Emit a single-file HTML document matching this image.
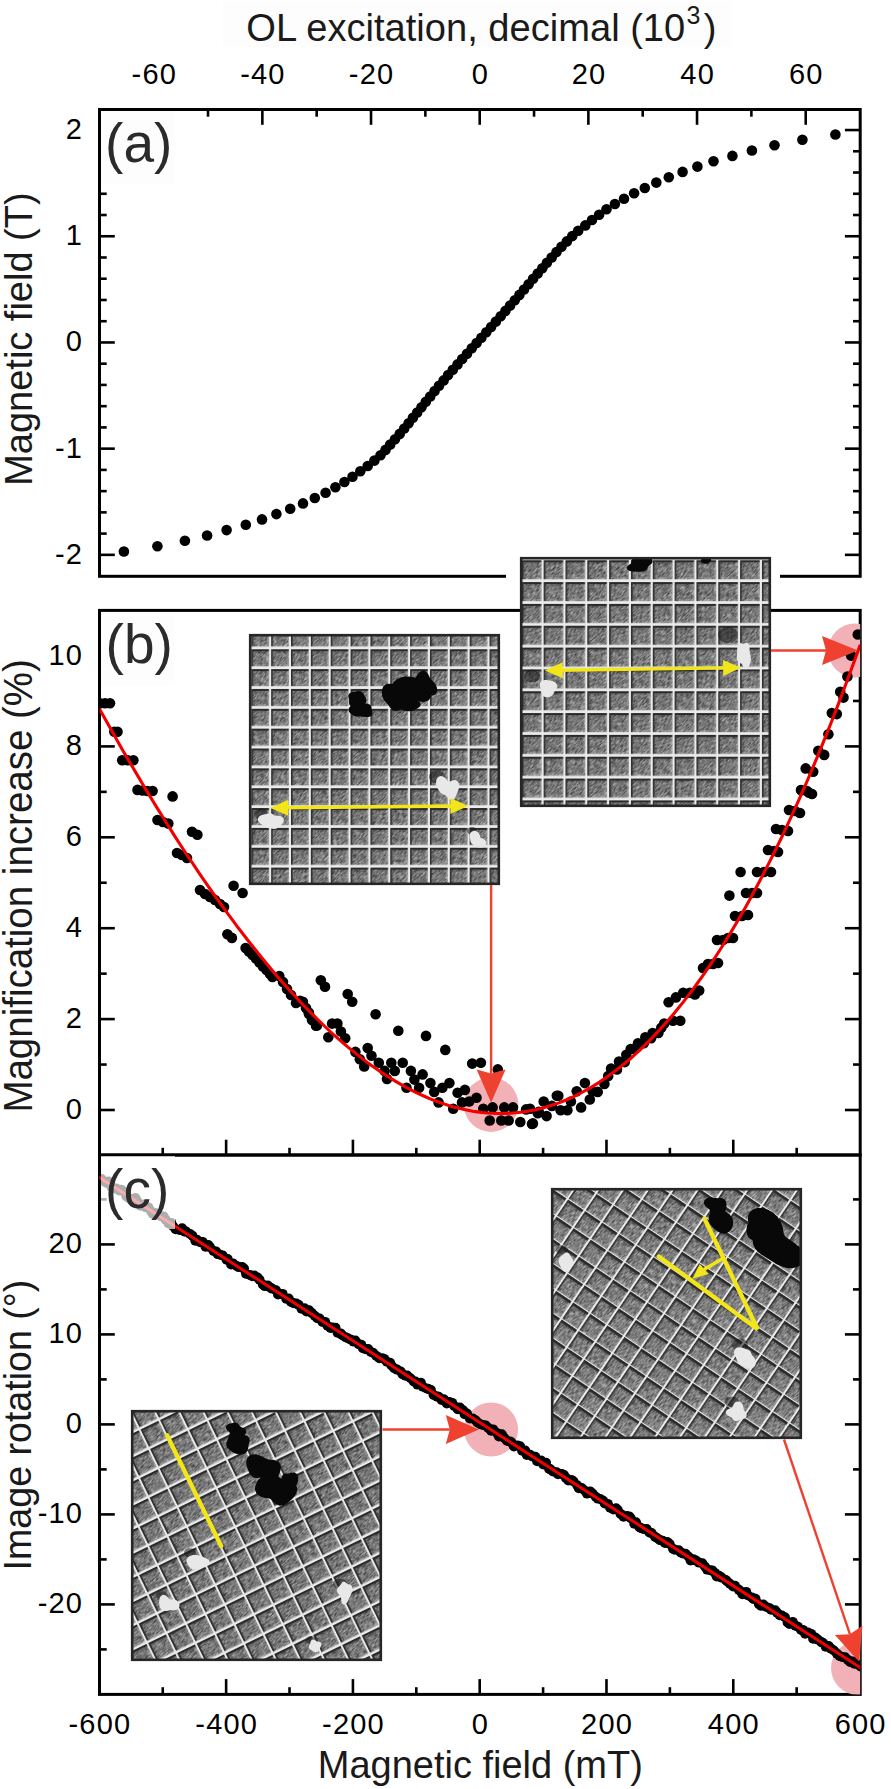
<!DOCTYPE html>
<html><head><meta charset="utf-8"><style>
html,body{margin:0;padding:0;background:#fff;}
body{width:891px;height:1789px;overflow:hidden;}
svg{display:block;}
text{font-family:"Liberation Sans",sans-serif;}
</style></head><body>
<svg width="891" height="1789" viewBox="0 0 891 1789" font-family="Liberation Sans, sans-serif">
<rect width="891" height="1789" fill="#fff"/>
<defs>
<clipPath id="clipA"><rect x="99.5" y="109.5" width="760.7" height="466.8"/></clipPath>
<clipPath id="clipB"><rect x="99.5" y="610.4" width="760.7" height="544.6"/></clipPath>
<clipPath id="clipC"><rect x="99.5" y="1155.0" width="760.7" height="539.4"/></clipPath>
<filter id="grain" x="0" y="0" width="100%" height="100%"><feTurbulence type="fractalNoise" baseFrequency="0.22 0.9" numOctaves="2" seed="3" result="n"/><feColorMatrix type="matrix" values="0 0 0 0 0  0 0 0 0 0  0 0 0 0 0  1.6 0 0 0 -0.62" /></filter>
<filter id="grainw" x="0" y="0" width="100%" height="100%"><feTurbulence type="fractalNoise" baseFrequency="0.22 0.9" numOctaves="2" seed="9"/><feColorMatrix type="matrix" values="0 0 0 0 1  0 0 0 0 1  0 0 0 0 1  1.6 0 0 0 -0.62" /></filter>
</defs>
<rect x="223" y="1" width="509" height="46" fill="#fdfdfd"/>
<rect x="99.5" y="109.5" width="760.7" height="466.79999999999995" fill="none" stroke="#000" stroke-width="3"/>
<rect x="99.5" y="610.4" width="760.7" height="544.6" fill="none" stroke="#000" stroke-width="3"/>
<rect x="99.5" y="1155.0" width="760.7" height="539.4000000000001" fill="none" stroke="#000" stroke-width="3"/>
<line x1="153.69" y1="109.50" x2="153.69" y2="124.80" stroke="#000" stroke-width="2.6"/>
<line x1="208.02" y1="109.50" x2="208.02" y2="116.70" stroke="#000" stroke-width="2.6"/>
<line x1="262.36" y1="109.50" x2="262.36" y2="124.80" stroke="#000" stroke-width="2.6"/>
<line x1="316.69" y1="109.50" x2="316.69" y2="116.70" stroke="#000" stroke-width="2.6"/>
<line x1="371.03" y1="109.50" x2="371.03" y2="124.80" stroke="#000" stroke-width="2.6"/>
<line x1="425.36" y1="109.50" x2="425.36" y2="116.70" stroke="#000" stroke-width="2.6"/>
<line x1="479.70" y1="109.50" x2="479.70" y2="124.80" stroke="#000" stroke-width="2.6"/>
<line x1="534.04" y1="109.50" x2="534.04" y2="116.70" stroke="#000" stroke-width="2.6"/>
<line x1="588.37" y1="109.50" x2="588.37" y2="124.80" stroke="#000" stroke-width="2.6"/>
<line x1="642.71" y1="109.50" x2="642.71" y2="116.70" stroke="#000" stroke-width="2.6"/>
<line x1="697.04" y1="109.50" x2="697.04" y2="124.80" stroke="#000" stroke-width="2.6"/>
<line x1="751.38" y1="109.50" x2="751.38" y2="116.70" stroke="#000" stroke-width="2.6"/>
<line x1="805.71" y1="109.50" x2="805.71" y2="124.80" stroke="#000" stroke-width="2.6"/>
<line x1="99.50" y1="554.85" x2="114.80" y2="554.85" stroke="#000" stroke-width="2.6"/>
<line x1="860.20" y1="554.85" x2="844.90" y2="554.85" stroke="#000" stroke-width="2.6"/>
<line x1="99.50" y1="533.61" x2="106.70" y2="533.61" stroke="#000" stroke-width="2.6"/>
<line x1="860.20" y1="533.61" x2="853.00" y2="533.61" stroke="#000" stroke-width="2.6"/>
<line x1="99.50" y1="512.37" x2="106.70" y2="512.37" stroke="#000" stroke-width="2.6"/>
<line x1="860.20" y1="512.37" x2="853.00" y2="512.37" stroke="#000" stroke-width="2.6"/>
<line x1="99.50" y1="491.13" x2="106.70" y2="491.13" stroke="#000" stroke-width="2.6"/>
<line x1="860.20" y1="491.13" x2="853.00" y2="491.13" stroke="#000" stroke-width="2.6"/>
<line x1="99.50" y1="469.89" x2="106.70" y2="469.89" stroke="#000" stroke-width="2.6"/>
<line x1="860.20" y1="469.89" x2="853.00" y2="469.89" stroke="#000" stroke-width="2.6"/>
<line x1="99.50" y1="448.65" x2="114.80" y2="448.65" stroke="#000" stroke-width="2.6"/>
<line x1="860.20" y1="448.65" x2="844.90" y2="448.65" stroke="#000" stroke-width="2.6"/>
<line x1="99.50" y1="427.41" x2="106.70" y2="427.41" stroke="#000" stroke-width="2.6"/>
<line x1="860.20" y1="427.41" x2="853.00" y2="427.41" stroke="#000" stroke-width="2.6"/>
<line x1="99.50" y1="406.17" x2="106.70" y2="406.17" stroke="#000" stroke-width="2.6"/>
<line x1="860.20" y1="406.17" x2="853.00" y2="406.17" stroke="#000" stroke-width="2.6"/>
<line x1="99.50" y1="384.93" x2="106.70" y2="384.93" stroke="#000" stroke-width="2.6"/>
<line x1="860.20" y1="384.93" x2="853.00" y2="384.93" stroke="#000" stroke-width="2.6"/>
<line x1="99.50" y1="363.69" x2="106.70" y2="363.69" stroke="#000" stroke-width="2.6"/>
<line x1="860.20" y1="363.69" x2="853.00" y2="363.69" stroke="#000" stroke-width="2.6"/>
<line x1="99.50" y1="342.45" x2="114.80" y2="342.45" stroke="#000" stroke-width="2.6"/>
<line x1="860.20" y1="342.45" x2="844.90" y2="342.45" stroke="#000" stroke-width="2.6"/>
<line x1="99.50" y1="321.21" x2="106.70" y2="321.21" stroke="#000" stroke-width="2.6"/>
<line x1="860.20" y1="321.21" x2="853.00" y2="321.21" stroke="#000" stroke-width="2.6"/>
<line x1="99.50" y1="299.97" x2="106.70" y2="299.97" stroke="#000" stroke-width="2.6"/>
<line x1="860.20" y1="299.97" x2="853.00" y2="299.97" stroke="#000" stroke-width="2.6"/>
<line x1="99.50" y1="278.73" x2="106.70" y2="278.73" stroke="#000" stroke-width="2.6"/>
<line x1="860.20" y1="278.73" x2="853.00" y2="278.73" stroke="#000" stroke-width="2.6"/>
<line x1="99.50" y1="257.49" x2="106.70" y2="257.49" stroke="#000" stroke-width="2.6"/>
<line x1="860.20" y1="257.49" x2="853.00" y2="257.49" stroke="#000" stroke-width="2.6"/>
<line x1="99.50" y1="236.25" x2="114.80" y2="236.25" stroke="#000" stroke-width="2.6"/>
<line x1="860.20" y1="236.25" x2="844.90" y2="236.25" stroke="#000" stroke-width="2.6"/>
<line x1="99.50" y1="215.01" x2="106.70" y2="215.01" stroke="#000" stroke-width="2.6"/>
<line x1="860.20" y1="215.01" x2="853.00" y2="215.01" stroke="#000" stroke-width="2.6"/>
<line x1="99.50" y1="193.77" x2="106.70" y2="193.77" stroke="#000" stroke-width="2.6"/>
<line x1="860.20" y1="193.77" x2="853.00" y2="193.77" stroke="#000" stroke-width="2.6"/>
<line x1="99.50" y1="172.53" x2="106.70" y2="172.53" stroke="#000" stroke-width="2.6"/>
<line x1="860.20" y1="172.53" x2="853.00" y2="172.53" stroke="#000" stroke-width="2.6"/>
<line x1="99.50" y1="151.29" x2="106.70" y2="151.29" stroke="#000" stroke-width="2.6"/>
<line x1="860.20" y1="151.29" x2="853.00" y2="151.29" stroke="#000" stroke-width="2.6"/>
<line x1="99.50" y1="130.05" x2="114.80" y2="130.05" stroke="#000" stroke-width="2.6"/>
<line x1="860.20" y1="130.05" x2="844.90" y2="130.05" stroke="#000" stroke-width="2.6"/>
<line x1="99.50" y1="1110.00" x2="114.80" y2="1110.00" stroke="#000" stroke-width="2.6"/>
<line x1="860.20" y1="1110.00" x2="844.90" y2="1110.00" stroke="#000" stroke-width="2.6"/>
<line x1="99.50" y1="1064.55" x2="106.70" y2="1064.55" stroke="#000" stroke-width="2.6"/>
<line x1="860.20" y1="1064.55" x2="853.00" y2="1064.55" stroke="#000" stroke-width="2.6"/>
<line x1="99.50" y1="1019.10" x2="114.80" y2="1019.10" stroke="#000" stroke-width="2.6"/>
<line x1="860.20" y1="1019.10" x2="844.90" y2="1019.10" stroke="#000" stroke-width="2.6"/>
<line x1="99.50" y1="973.65" x2="106.70" y2="973.65" stroke="#000" stroke-width="2.6"/>
<line x1="860.20" y1="973.65" x2="853.00" y2="973.65" stroke="#000" stroke-width="2.6"/>
<line x1="99.50" y1="928.20" x2="114.80" y2="928.20" stroke="#000" stroke-width="2.6"/>
<line x1="860.20" y1="928.20" x2="844.90" y2="928.20" stroke="#000" stroke-width="2.6"/>
<line x1="99.50" y1="882.75" x2="106.70" y2="882.75" stroke="#000" stroke-width="2.6"/>
<line x1="860.20" y1="882.75" x2="853.00" y2="882.75" stroke="#000" stroke-width="2.6"/>
<line x1="99.50" y1="837.30" x2="114.80" y2="837.30" stroke="#000" stroke-width="2.6"/>
<line x1="860.20" y1="837.30" x2="844.90" y2="837.30" stroke="#000" stroke-width="2.6"/>
<line x1="99.50" y1="791.85" x2="106.70" y2="791.85" stroke="#000" stroke-width="2.6"/>
<line x1="860.20" y1="791.85" x2="853.00" y2="791.85" stroke="#000" stroke-width="2.6"/>
<line x1="99.50" y1="746.40" x2="114.80" y2="746.40" stroke="#000" stroke-width="2.6"/>
<line x1="860.20" y1="746.40" x2="844.90" y2="746.40" stroke="#000" stroke-width="2.6"/>
<line x1="99.50" y1="700.95" x2="106.70" y2="700.95" stroke="#000" stroke-width="2.6"/>
<line x1="860.20" y1="700.95" x2="853.00" y2="700.95" stroke="#000" stroke-width="2.6"/>
<line x1="99.50" y1="655.50" x2="114.80" y2="655.50" stroke="#000" stroke-width="2.6"/>
<line x1="860.20" y1="655.50" x2="844.90" y2="655.50" stroke="#000" stroke-width="2.6"/>
<line x1="162.74" y1="1155.00" x2="162.74" y2="1147.80" stroke="#000" stroke-width="2.6"/>
<line x1="162.74" y1="1694.40" x2="162.74" y2="1687.20" stroke="#000" stroke-width="2.6"/>
<line x1="226.13" y1="1155.00" x2="226.13" y2="1139.70" stroke="#000" stroke-width="2.6"/>
<line x1="226.13" y1="1694.40" x2="226.13" y2="1679.10" stroke="#000" stroke-width="2.6"/>
<line x1="289.52" y1="1155.00" x2="289.52" y2="1147.80" stroke="#000" stroke-width="2.6"/>
<line x1="289.52" y1="1694.40" x2="289.52" y2="1687.20" stroke="#000" stroke-width="2.6"/>
<line x1="352.92" y1="1155.00" x2="352.92" y2="1139.70" stroke="#000" stroke-width="2.6"/>
<line x1="352.92" y1="1694.40" x2="352.92" y2="1679.10" stroke="#000" stroke-width="2.6"/>
<line x1="416.31" y1="1155.00" x2="416.31" y2="1147.80" stroke="#000" stroke-width="2.6"/>
<line x1="416.31" y1="1694.40" x2="416.31" y2="1687.20" stroke="#000" stroke-width="2.6"/>
<line x1="479.70" y1="1155.00" x2="479.70" y2="1139.70" stroke="#000" stroke-width="2.6"/>
<line x1="479.70" y1="1694.40" x2="479.70" y2="1679.10" stroke="#000" stroke-width="2.6"/>
<line x1="543.09" y1="1155.00" x2="543.09" y2="1147.80" stroke="#000" stroke-width="2.6"/>
<line x1="543.09" y1="1694.40" x2="543.09" y2="1687.20" stroke="#000" stroke-width="2.6"/>
<line x1="606.48" y1="1155.00" x2="606.48" y2="1139.70" stroke="#000" stroke-width="2.6"/>
<line x1="606.48" y1="1694.40" x2="606.48" y2="1679.10" stroke="#000" stroke-width="2.6"/>
<line x1="669.88" y1="1155.00" x2="669.88" y2="1147.80" stroke="#000" stroke-width="2.6"/>
<line x1="669.88" y1="1694.40" x2="669.88" y2="1687.20" stroke="#000" stroke-width="2.6"/>
<line x1="733.27" y1="1155.00" x2="733.27" y2="1139.70" stroke="#000" stroke-width="2.6"/>
<line x1="733.27" y1="1694.40" x2="733.27" y2="1679.10" stroke="#000" stroke-width="2.6"/>
<line x1="796.66" y1="1155.00" x2="796.66" y2="1147.80" stroke="#000" stroke-width="2.6"/>
<line x1="796.66" y1="1694.40" x2="796.66" y2="1687.20" stroke="#000" stroke-width="2.6"/>
<line x1="99.50" y1="1649.40" x2="106.70" y2="1649.40" stroke="#000" stroke-width="2.6"/>
<line x1="860.20" y1="1649.40" x2="853.00" y2="1649.40" stroke="#000" stroke-width="2.6"/>
<line x1="99.50" y1="1604.40" x2="114.80" y2="1604.40" stroke="#000" stroke-width="2.6"/>
<line x1="860.20" y1="1604.40" x2="844.90" y2="1604.40" stroke="#000" stroke-width="2.6"/>
<line x1="99.50" y1="1559.40" x2="106.70" y2="1559.40" stroke="#000" stroke-width="2.6"/>
<line x1="860.20" y1="1559.40" x2="853.00" y2="1559.40" stroke="#000" stroke-width="2.6"/>
<line x1="99.50" y1="1514.40" x2="114.80" y2="1514.40" stroke="#000" stroke-width="2.6"/>
<line x1="860.20" y1="1514.40" x2="844.90" y2="1514.40" stroke="#000" stroke-width="2.6"/>
<line x1="99.50" y1="1469.40" x2="106.70" y2="1469.40" stroke="#000" stroke-width="2.6"/>
<line x1="860.20" y1="1469.40" x2="853.00" y2="1469.40" stroke="#000" stroke-width="2.6"/>
<line x1="99.50" y1="1424.40" x2="114.80" y2="1424.40" stroke="#000" stroke-width="2.6"/>
<line x1="860.20" y1="1424.40" x2="844.90" y2="1424.40" stroke="#000" stroke-width="2.6"/>
<line x1="99.50" y1="1379.40" x2="106.70" y2="1379.40" stroke="#000" stroke-width="2.6"/>
<line x1="860.20" y1="1379.40" x2="853.00" y2="1379.40" stroke="#000" stroke-width="2.6"/>
<line x1="99.50" y1="1334.40" x2="114.80" y2="1334.40" stroke="#000" stroke-width="2.6"/>
<line x1="860.20" y1="1334.40" x2="844.90" y2="1334.40" stroke="#000" stroke-width="2.6"/>
<line x1="99.50" y1="1289.40" x2="106.70" y2="1289.40" stroke="#000" stroke-width="2.6"/>
<line x1="860.20" y1="1289.40" x2="853.00" y2="1289.40" stroke="#000" stroke-width="2.6"/>
<line x1="99.50" y1="1244.40" x2="114.80" y2="1244.40" stroke="#000" stroke-width="2.6"/>
<line x1="860.20" y1="1244.40" x2="844.90" y2="1244.40" stroke="#000" stroke-width="2.6"/>
<line x1="99.50" y1="1199.40" x2="106.70" y2="1199.40" stroke="#000" stroke-width="2.6"/>
<line x1="860.20" y1="1199.40" x2="853.00" y2="1199.40" stroke="#000" stroke-width="2.6"/>
<g clip-path="url(#clipA)">
<circle cx="123.9" cy="551.5" r="5.3"/><circle cx="157.4" cy="546.2" r="5.3"/><circle cx="184.9" cy="540.8" r="5.3"/><circle cx="207.1" cy="535.5" r="5.3"/><circle cx="226.6" cy="530.1" r="5.3"/><circle cx="245.8" cy="524.8" r="5.3"/><circle cx="262.0" cy="519.4" r="5.3"/><circle cx="276.4" cy="514.1" r="5.3"/><circle cx="290.2" cy="508.7" r="5.3"/><circle cx="303.0" cy="503.4" r="5.3"/><circle cx="314.8" cy="498.0" r="5.3"/><circle cx="325.6" cy="492.7" r="5.3"/><circle cx="335.4" cy="487.3" r="5.3"/><circle cx="344.4" cy="482.0" r="5.3"/><circle cx="352.5" cy="476.7" r="5.3"/><circle cx="360.3" cy="471.3" r="5.3"/><circle cx="367.7" cy="466.0" r="5.3"/><circle cx="374.4" cy="460.6" r="5.3"/><circle cx="380.5" cy="455.3" r="5.3"/><circle cx="385.5" cy="449.9" r="5.3"/><circle cx="390.2" cy="444.6" r="5.3"/><circle cx="395.0" cy="439.2" r="5.3"/><circle cx="399.7" cy="433.9" r="5.3"/><circle cx="404.2" cy="428.5" r="5.3"/><circle cx="408.6" cy="423.2" r="5.3"/><circle cx="412.9" cy="417.8" r="5.3"/><circle cx="417.2" cy="412.5" r="5.3"/><circle cx="421.5" cy="407.2" r="5.3"/><circle cx="425.8" cy="401.8" r="5.3"/><circle cx="430.2" cy="396.5" r="5.3"/><circle cx="434.6" cy="391.1" r="5.3"/><circle cx="439.0" cy="385.8" r="5.3"/><circle cx="443.6" cy="380.4" r="5.3"/><circle cx="448.1" cy="375.1" r="5.3"/><circle cx="452.8" cy="369.7" r="5.3"/><circle cx="457.5" cy="364.4" r="5.3"/><circle cx="462.2" cy="359.0" r="5.3"/><circle cx="467.0" cy="353.7" r="5.3"/><circle cx="471.8" cy="348.3" r="5.3"/><circle cx="476.6" cy="343.0" r="5.3"/><circle cx="481.4" cy="337.7" r="5.3"/><circle cx="486.3" cy="332.3" r="5.3"/><circle cx="491.1" cy="327.0" r="5.3"/><circle cx="495.9" cy="321.6" r="5.3"/><circle cx="500.7" cy="316.3" r="5.3"/><circle cx="505.4" cy="310.9" r="5.3"/><circle cx="510.1" cy="305.6" r="5.3"/><circle cx="514.8" cy="300.2" r="5.3"/><circle cx="519.4" cy="294.9" r="5.3"/><circle cx="524.0" cy="289.5" r="5.3"/><circle cx="528.6" cy="284.2" r="5.3"/><circle cx="533.1" cy="278.8" r="5.3"/><circle cx="537.7" cy="273.5" r="5.3"/><circle cx="542.3" cy="268.2" r="5.3"/><circle cx="546.9" cy="262.8" r="5.3"/><circle cx="551.7" cy="257.5" r="5.3"/><circle cx="556.5" cy="252.1" r="5.3"/><circle cx="561.5" cy="246.8" r="5.3"/><circle cx="566.8" cy="241.4" r="5.3"/><circle cx="572.3" cy="236.1" r="5.3"/><circle cx="578.2" cy="230.7" r="5.3"/><circle cx="585.3" cy="225.4" r="5.3"/><circle cx="592.0" cy="220.0" r="5.3"/><circle cx="599.1" cy="214.7" r="5.3"/><circle cx="606.5" cy="209.3" r="5.3"/><circle cx="614.9" cy="204.0" r="5.3"/><circle cx="624.0" cy="198.7" r="5.3"/><circle cx="634.1" cy="193.3" r="5.3"/><circle cx="644.8" cy="188.0" r="5.3"/><circle cx="656.3" cy="182.6" r="5.3"/><circle cx="668.8" cy="177.3" r="5.3"/><circle cx="682.6" cy="171.9" r="5.3"/><circle cx="697.4" cy="166.6" r="5.3"/><circle cx="713.5" cy="161.2" r="5.3"/><circle cx="732.4" cy="155.9" r="5.3"/><circle cx="751.9" cy="150.5" r="5.3"/><circle cx="774.5" cy="145.2" r="5.3"/><circle cx="802.4" cy="139.8" r="5.3"/><circle cx="835.4" cy="134.5" r="5.3"/>
</g>
<g clip-path="url(#clipB)">
<circle cx="491.1" cy="1104.6" r="27.3" fill="#f1b1b6"/>
<circle cx="855" cy="650.5" r="27" fill="#f1b1b6"/>
<circle cx="100.0" cy="703.3" r="5.3"/><circle cx="105.0" cy="703.3" r="5.3"/><circle cx="110.0" cy="703.3" r="5.3"/><circle cx="114.3" cy="731.7" r="5.3"/><circle cx="117.5" cy="731.7" r="5.3"/><circle cx="122.2" cy="760.3" r="5.3"/><circle cx="127.8" cy="760.3" r="5.3"/><circle cx="133.4" cy="760.3" r="5.3"/><circle cx="137.5" cy="789.9" r="5.3"/><circle cx="142.5" cy="790.5" r="5.3"/><circle cx="147.5" cy="791.0" r="5.3"/><circle cx="152.6" cy="791.0" r="5.3"/><circle cx="172.6" cy="796.4" r="5.3"/><circle cx="157.5" cy="820.0" r="5.3"/><circle cx="163.0" cy="822.0" r="5.3"/><circle cx="168.3" cy="823.6" r="5.3"/><circle cx="192.0" cy="831.7" r="5.3"/><circle cx="197.4" cy="834.8" r="5.3"/><circle cx="177.0" cy="853.0" r="5.3"/><circle cx="182.0" cy="855.0" r="5.3"/><circle cx="187.0" cy="858.0" r="5.3"/><circle cx="200.0" cy="890.0" r="5.3"/><circle cx="205.0" cy="894.0" r="5.3"/><circle cx="210.0" cy="897.0" r="5.3"/><circle cx="215.0" cy="900.0" r="5.3"/><circle cx="220.0" cy="904.0" r="5.3"/><circle cx="224.0" cy="907.0" r="5.3"/><circle cx="233.6" cy="885.8" r="5.3"/><circle cx="242.6" cy="893.0" r="5.3"/><circle cx="227.4" cy="934.3" r="5.3"/><circle cx="231.9" cy="937.9" r="5.3"/><circle cx="245.6" cy="948.0" r="5.3"/><circle cx="249.0" cy="951.5" r="5.3"/><circle cx="252.5" cy="955.0" r="5.3"/><circle cx="256.0" cy="958.5" r="5.3"/><circle cx="259.5" cy="962.5" r="5.3"/><circle cx="263.0" cy="966.5" r="5.3"/><circle cx="266.5" cy="970.0" r="5.3"/><circle cx="270.0" cy="974.0" r="5.3"/><circle cx="272.5" cy="977.0" r="5.3"/><circle cx="279.3" cy="976.0" r="5.3"/><circle cx="283.0" cy="982.0" r="5.3"/><circle cx="287.0" cy="989.0" r="5.3"/><circle cx="291.0" cy="995.0" r="5.3"/><circle cx="296.0" cy="1003.0" r="5.3"/><circle cx="302.9" cy="1001.8" r="5.3"/><circle cx="306.0" cy="1008.0" r="5.3"/><circle cx="309.0" cy="1014.0" r="5.3"/><circle cx="312.0" cy="1020.0" r="5.3"/><circle cx="317.0" cy="1025.4" r="5.3"/><circle cx="320.8" cy="980.3" r="5.3"/><circle cx="325.0" cy="986.7" r="5.3"/><circle cx="347.7" cy="994.0" r="5.3"/><circle cx="352.2" cy="1001.7" r="5.3"/><circle cx="375.6" cy="1014.3" r="5.3"/><circle cx="398.3" cy="1030.7" r="5.3"/><circle cx="426.0" cy="1035.9" r="5.3"/><circle cx="445.3" cy="1049.9" r="5.3"/><circle cx="472.2" cy="1063.6" r="5.3"/><circle cx="480.9" cy="1062.7" r="5.3"/><circle cx="497.8" cy="1069.4" r="5.3"/><circle cx="300.0" cy="1000.9" r="5.3"/><circle cx="308.8" cy="1012.5" r="5.3"/><circle cx="316.0" cy="1025.7" r="5.3"/><circle cx="328.3" cy="1037.3" r="5.3"/><circle cx="332.1" cy="1023.6" r="5.3"/><circle cx="337.4" cy="1023.6" r="5.3"/><circle cx="340.9" cy="1031.5" r="5.3"/><circle cx="345.2" cy="1038.2" r="5.3"/><circle cx="355.4" cy="1051.9" r="5.3"/><circle cx="359.8" cy="1059.2" r="5.3"/><circle cx="364.2" cy="1066.5" r="5.3"/><circle cx="367.7" cy="1048.1" r="5.3"/><circle cx="371.5" cy="1055.7" r="5.3"/><circle cx="378.8" cy="1062.7" r="5.3"/><circle cx="384.6" cy="1070.9" r="5.3"/><circle cx="387.0" cy="1079.0" r="5.3"/><circle cx="391.3" cy="1062.7" r="5.3"/><circle cx="394.8" cy="1070.9" r="5.3"/><circle cx="402.7" cy="1062.7" r="5.3"/><circle cx="406.5" cy="1087.8" r="5.3"/><circle cx="410.9" cy="1070.9" r="5.3"/><circle cx="414.4" cy="1079.6" r="5.3"/><circle cx="419.1" cy="1087.8" r="5.3"/><circle cx="422.6" cy="1074.4" r="5.3"/><circle cx="430.4" cy="1083.1" r="5.3"/><circle cx="434.2" cy="1091.9" r="5.3"/><circle cx="438.6" cy="1102.4" r="5.3"/><circle cx="442.4" cy="1087.8" r="5.3"/><circle cx="449.4" cy="1083.1" r="5.3"/><circle cx="453.2" cy="1108.8" r="5.3"/><circle cx="457.6" cy="1092.8" r="5.3"/><circle cx="464.9" cy="1089.9" r="5.3"/><circle cx="462.0" cy="1102.4" r="5.3"/><circle cx="469.2" cy="1101.5" r="5.3"/><circle cx="476.5" cy="1097.7" r="5.3"/><circle cx="483.3" cy="1108.8" r="5.3"/><circle cx="492.6" cy="1107.4" r="5.3"/><circle cx="489.7" cy="1120.5" r="5.3"/><circle cx="501.3" cy="1120.5" r="5.3"/><circle cx="504.3" cy="1107.4" r="5.3"/><circle cx="508.6" cy="1120.5" r="5.3"/><circle cx="513.0" cy="1107.4" r="5.3"/><circle cx="520.3" cy="1122.0" r="5.3"/><circle cx="526.1" cy="1109.4" r="5.3"/><circle cx="532.0" cy="1124.0" r="5.3"/><circle cx="537.8" cy="1113.2" r="5.3"/><circle cx="543.7" cy="1101.5" r="5.3"/><circle cx="546.6" cy="1116.1" r="5.3"/><circle cx="556.8" cy="1095.7" r="5.3"/><circle cx="532.9" cy="1123.4" r="5.3"/><circle cx="530.0" cy="1108.8" r="5.3"/><circle cx="538.8" cy="1111.7" r="5.3"/><circle cx="551.9" cy="1105.9" r="5.3"/><circle cx="558.3" cy="1095.7" r="5.3"/><circle cx="560.6" cy="1110.3" r="5.3"/><circle cx="567.4" cy="1110.3" r="5.3"/><circle cx="570.9" cy="1101.5" r="5.3"/><circle cx="576.7" cy="1091.3" r="5.3"/><circle cx="581.1" cy="1107.4" r="5.3"/><circle cx="584.9" cy="1083.1" r="5.3"/><circle cx="589.8" cy="1099.5" r="5.3"/><circle cx="592.7" cy="1091.3" r="5.3"/><circle cx="597.7" cy="1091.9" r="5.3"/><circle cx="604.4" cy="1084.0" r="5.3"/><circle cx="608.2" cy="1076.1" r="5.3"/><circle cx="611.1" cy="1068.5" r="5.3"/><circle cx="617.0" cy="1069.4" r="5.3"/><circle cx="619.0" cy="1061.5" r="5.3"/><circle cx="624.8" cy="1062.1" r="5.3"/><circle cx="626.3" cy="1054.8" r="5.3"/><circle cx="630.7" cy="1049.0" r="5.3"/><circle cx="635.0" cy="1049.0" r="5.3"/><circle cx="638.0" cy="1043.2" r="5.3"/><circle cx="643.8" cy="1043.2" r="5.3"/><circle cx="645.3" cy="1037.3" r="5.3"/><circle cx="651.1" cy="1038.2" r="5.3"/><circle cx="652.6" cy="1033.0" r="5.3"/><circle cx="658.4" cy="1033.0" r="5.3"/><circle cx="661.3" cy="1027.7" r="5.3"/><circle cx="664.2" cy="1023.6" r="5.3"/><circle cx="673.0" cy="1020.7" r="5.3"/><circle cx="680.3" cy="1020.7" r="5.3"/><circle cx="668.6" cy="1002.3" r="5.3"/><circle cx="675.9" cy="997.4" r="5.3"/><circle cx="683.2" cy="992.7" r="5.3"/><circle cx="689.9" cy="992.7" r="5.3"/><circle cx="694.9" cy="994.4" r="5.3"/><circle cx="699.2" cy="990.6" r="5.3"/><circle cx="703.0" cy="968.0" r="5.3"/><circle cx="708.0" cy="964.0" r="5.3"/><circle cx="713.0" cy="964.0" r="5.3"/><circle cx="718.0" cy="963.0" r="5.3"/><circle cx="717.0" cy="940.0" r="5.3"/><circle cx="723.0" cy="940.0" r="5.3"/><circle cx="728.0" cy="938.0" r="5.3"/><circle cx="733.0" cy="938.0" r="5.3"/><circle cx="735.0" cy="916.0" r="5.3"/><circle cx="742.0" cy="916.0" r="5.3"/><circle cx="748.0" cy="915.0" r="5.3"/><circle cx="729.4" cy="895.6" r="5.3"/><circle cx="746.0" cy="893.0" r="5.3"/><circle cx="752.0" cy="893.0" r="5.3"/><circle cx="757.0" cy="893.0" r="5.3"/><circle cx="740.6" cy="872.0" r="5.3"/><circle cx="757.0" cy="872.0" r="5.3"/><circle cx="764.0" cy="872.0" r="5.3"/><circle cx="771.0" cy="872.0" r="5.3"/><circle cx="768.0" cy="850.0" r="5.3"/><circle cx="774.0" cy="851.0" r="5.3"/><circle cx="778.0" cy="852.0" r="5.3"/><circle cx="776.0" cy="829.0" r="5.3"/><circle cx="782.0" cy="830.0" r="5.3"/><circle cx="788.0" cy="831.0" r="5.3"/><circle cx="789.0" cy="810.0" r="5.3"/><circle cx="795.0" cy="811.0" r="5.3"/><circle cx="800.0" cy="813.0" r="5.3"/><circle cx="801.0" cy="790.0" r="5.3"/><circle cx="807.0" cy="791.0" r="5.3"/><circle cx="812.0" cy="794.0" r="5.3"/><circle cx="857.8" cy="634.5" r="5.3"/><circle cx="851.1" cy="655.6" r="5.3"/><circle cx="847.4" cy="676.6" r="5.3"/><circle cx="840.2" cy="691.8" r="5.3"/><circle cx="843.5" cy="697.6" r="5.3"/><circle cx="831.8" cy="713.1" r="5.3"/><circle cx="836.8" cy="714.1" r="5.3"/><circle cx="828.4" cy="734.2" r="5.3"/><circle cx="818.3" cy="750.7" r="5.3"/><circle cx="824.2" cy="754.9" r="5.3"/><circle cx="805.7" cy="768.4" r="5.3"/><circle cx="813.2" cy="771.7" r="5.3"/><circle cx="801.4" cy="790.2" r="5.3"/><circle cx="809.0" cy="792.8" r="5.3"/>
<polyline fill="none" stroke="#f20000" stroke-width="3.1" points="99.5,709.0 104.3,717.6 109.1,726.1 113.9,734.6 118.6,743.0 123.4,751.4 128.2,759.6 133.0,767.8 137.8,775.9 142.6,784.0 147.3,791.9 152.1,799.8 156.9,807.6 161.7,815.3 166.5,823.0 171.3,830.6 176.0,838.1 180.8,845.5 185.6,852.8 190.4,860.0 195.2,867.2 200.0,874.3 204.8,881.3 209.5,888.2 214.3,895.0 219.1,901.7 223.9,908.4 228.7,914.9 233.5,921.4 238.2,927.8 243.0,934.0 247.8,940.2 252.6,946.3 257.4,952.3 262.2,958.2 266.9,964.0 271.7,969.8 276.5,975.4 281.3,980.9 286.1,986.3 290.9,991.6 295.7,996.8 300.4,1002.0 305.2,1007.0 310.0,1011.9 314.8,1016.7 319.6,1021.4 324.4,1026.0 329.1,1030.5 333.9,1034.9 338.7,1039.1 343.5,1043.3 348.3,1047.4 353.1,1051.3 357.9,1055.1 362.6,1058.9 367.4,1062.5 372.2,1065.9 377.0,1069.3 381.8,1072.6 386.6,1075.7 391.3,1078.7 396.1,1081.6 400.9,1084.4 405.7,1087.1 410.5,1089.6 415.3,1092.1 420.0,1094.3 424.8,1096.5 429.6,1098.6 434.4,1100.5 439.2,1102.3 444.0,1103.9 448.8,1105.5 453.5,1106.9 458.3,1108.1 463.1,1109.3 467.9,1110.3 472.7,1111.2 477.5,1111.9 482.2,1112.5 487.0,1113.0 491.8,1113.3 496.6,1113.5 501.4,1113.5 506.2,1113.4 510.9,1113.2 515.7,1112.8 520.5,1112.3 525.3,1111.6 530.1,1110.8 534.9,1109.9 539.7,1108.8 544.4,1107.5 549.2,1106.1 554.0,1104.6 558.8,1102.9 563.6,1101.0 568.4,1099.0 573.1,1096.8 577.9,1094.5 582.7,1092.0 587.5,1089.4 592.3,1086.6 597.1,1083.7 601.8,1080.5 606.6,1077.3 611.4,1073.8 616.2,1070.2 621.0,1066.5 625.8,1062.5 630.6,1058.5 635.3,1054.2 640.1,1049.8 644.9,1045.2 649.7,1040.4 654.5,1035.4 659.3,1030.3 664.0,1025.0 668.8,1019.6 673.6,1013.9 678.4,1008.1 683.2,1002.1 688.0,995.9 692.8,989.6 697.5,983.0 702.3,976.3 707.1,969.4 711.9,962.3 716.7,955.0 721.5,947.5 726.2,939.9 731.0,932.1 735.8,924.0 740.6,915.8 745.4,907.4 750.2,898.8 754.9,890.0 759.7,881.0 764.5,871.8 769.3,862.4 774.1,852.8 778.9,843.0 783.7,833.0 788.4,822.8 793.2,812.4 798.0,801.8 802.8,791.0 807.6,780.0 812.4,768.7 817.1,757.3 821.9,745.6 826.7,733.8 831.5,721.7 836.3,709.4 841.1,696.9 845.8,684.2 850.6,671.3 855.4,658.1 860.2,644.8"/>
</g>
<g clip-path="url(#clipC)">
<circle cx="491.1" cy="1429.5" r="27" fill="#f1b1b6"/>
<circle cx="858" cy="1668" r="27" fill="#f1b1b6"/>
<circle cx="101.4" cy="1179.0" r="5.0"/><circle cx="104.3" cy="1181.5" r="5.0"/><circle cx="106.9" cy="1182.9" r="5.0"/><circle cx="108.7" cy="1181.5" r="5.0"/><circle cx="111.6" cy="1187.2" r="5.0"/><circle cx="113.4" cy="1188.6" r="5.0"/><circle cx="116.2" cy="1188.4" r="5.0"/><circle cx="119.3" cy="1190.4" r="5.0"/><circle cx="121.3" cy="1189.8" r="5.0"/><circle cx="125.1" cy="1192.6" r="5.0"/><circle cx="126.5" cy="1196.4" r="5.0"/><circle cx="129.0" cy="1198.2" r="5.0"/><circle cx="131.6" cy="1199.1" r="5.0"/><circle cx="135.4" cy="1198.1" r="5.0"/><circle cx="136.9" cy="1200.7" r="5.0"/><circle cx="140.6" cy="1205.8" r="5.0"/><circle cx="143.3" cy="1204.4" r="5.0"/><circle cx="145.5" cy="1207.2" r="5.0"/><circle cx="148.5" cy="1207.4" r="5.0"/><circle cx="151.1" cy="1211.2" r="5.0"/><circle cx="152.7" cy="1213.7" r="5.0"/><circle cx="155.1" cy="1213.1" r="5.0"/><circle cx="157.5" cy="1213.8" r="5.0"/><circle cx="161.0" cy="1216.2" r="5.0"/><circle cx="163.7" cy="1216.5" r="5.0"/><circle cx="165.7" cy="1219.7" r="5.0"/><circle cx="168.6" cy="1223.5" r="5.0"/><circle cx="171.2" cy="1222.9" r="5.0"/><circle cx="173.1" cy="1226.3" r="5.0"/><circle cx="175.6" cy="1229.2" r="5.0"/><circle cx="179.6" cy="1229.9" r="5.0"/><circle cx="182.1" cy="1228.3" r="5.0"/><circle cx="184.3" cy="1231.5" r="5.0"/><circle cx="186.1" cy="1231.6" r="5.0"/><circle cx="190.1" cy="1234.0" r="5.0"/><circle cx="192.4" cy="1235.8" r="5.0"/><circle cx="195.3" cy="1240.7" r="5.0"/><circle cx="197.0" cy="1239.8" r="5.0"/><circle cx="200.2" cy="1242.3" r="5.0"/><circle cx="202.8" cy="1242.1" r="5.0"/><circle cx="205.6" cy="1246.8" r="5.0"/><circle cx="208.3" cy="1245.1" r="5.0"/><circle cx="209.9" cy="1247.1" r="5.0"/><circle cx="213.5" cy="1251.0" r="5.0"/><circle cx="216.1" cy="1251.5" r="5.0"/><circle cx="217.7" cy="1254.1" r="5.0"/><circle cx="220.1" cy="1254.7" r="5.0"/><circle cx="222.6" cy="1255.4" r="5.0"/><circle cx="226.6" cy="1259.7" r="5.0"/><circle cx="227.7" cy="1259.1" r="5.0"/><circle cx="231.1" cy="1264.4" r="5.0"/><circle cx="233.2" cy="1263.5" r="5.0"/><circle cx="236.7" cy="1266.0" r="5.0"/><circle cx="238.7" cy="1267.1" r="5.0"/><circle cx="242.1" cy="1267.0" r="5.0"/><circle cx="244.0" cy="1268.6" r="5.0"/><circle cx="246.0" cy="1273.8" r="5.0"/><circle cx="249.9" cy="1275.0" r="5.0"/><circle cx="252.3" cy="1276.2" r="5.0"/><circle cx="254.3" cy="1275.6" r="5.0"/><circle cx="257.6" cy="1277.5" r="5.0"/><circle cx="259.5" cy="1279.8" r="5.0"/><circle cx="262.8" cy="1284.5" r="5.0"/><circle cx="264.7" cy="1286.1" r="5.0"/><circle cx="267.8" cy="1285.6" r="5.0"/><circle cx="269.7" cy="1287.3" r="5.0"/><circle cx="272.0" cy="1288.6" r="5.0"/><circle cx="276.0" cy="1290.2" r="5.0"/><circle cx="278.0" cy="1294.4" r="5.0"/><circle cx="280.1" cy="1294.1" r="5.0"/><circle cx="282.6" cy="1293.9" r="5.0"/><circle cx="286.2" cy="1298.7" r="5.0"/><circle cx="288.7" cy="1298.5" r="5.0"/><circle cx="291.1" cy="1302.0" r="5.0"/><circle cx="293.8" cy="1303.2" r="5.0"/><circle cx="296.3" cy="1303.5" r="5.0"/><circle cx="298.6" cy="1304.8" r="5.0"/><circle cx="301.5" cy="1308.7" r="5.0"/><circle cx="304.5" cy="1308.2" r="5.0"/><circle cx="306.5" cy="1311.5" r="5.0"/><circle cx="309.1" cy="1310.3" r="5.0"/><circle cx="311.9" cy="1313.1" r="5.0"/><circle cx="314.7" cy="1315.7" r="5.0"/><circle cx="317.3" cy="1318.2" r="5.0"/><circle cx="319.6" cy="1318.5" r="5.0"/><circle cx="322.5" cy="1321.9" r="5.0"/><circle cx="325.1" cy="1321.9" r="5.0"/><circle cx="327.5" cy="1325.8" r="5.0"/><circle cx="330.5" cy="1328.0" r="5.0"/><circle cx="332.4" cy="1327.6" r="5.0"/><circle cx="335.5" cy="1327.8" r="5.0"/><circle cx="337.6" cy="1332.8" r="5.0"/><circle cx="340.6" cy="1333.4" r="5.0"/><circle cx="342.3" cy="1335.3" r="5.0"/><circle cx="345.5" cy="1337.2" r="5.0"/><circle cx="347.9" cy="1338.3" r="5.0"/><circle cx="351.0" cy="1339.8" r="5.0"/><circle cx="353.6" cy="1341.6" r="5.0"/><circle cx="355.3" cy="1340.6" r="5.0"/><circle cx="358.6" cy="1344.1" r="5.0"/><circle cx="361.3" cy="1344.8" r="5.0"/><circle cx="362.9" cy="1348.2" r="5.0"/><circle cx="365.8" cy="1349.2" r="5.0"/><circle cx="368.2" cy="1349.1" r="5.0"/><circle cx="370.9" cy="1351.9" r="5.0"/><circle cx="373.3" cy="1353.0" r="5.0"/><circle cx="376.4" cy="1355.9" r="5.0"/><circle cx="379.3" cy="1358.2" r="5.0"/><circle cx="382.4" cy="1358.2" r="5.0"/><circle cx="384.2" cy="1358.9" r="5.0"/><circle cx="386.9" cy="1361.8" r="5.0"/><circle cx="390.1" cy="1362.7" r="5.0"/><circle cx="391.5" cy="1365.5" r="5.0"/><circle cx="394.2" cy="1368.3" r="5.0"/><circle cx="397.1" cy="1369.6" r="5.0"/><circle cx="400.7" cy="1371.5" r="5.0"/><circle cx="402.5" cy="1374.2" r="5.0"/><circle cx="405.4" cy="1375.8" r="5.0"/><circle cx="407.2" cy="1375.6" r="5.0"/><circle cx="410.5" cy="1378.2" r="5.0"/><circle cx="413.7" cy="1381.5" r="5.0"/><circle cx="415.4" cy="1381.6" r="5.0"/><circle cx="417.4" cy="1384.6" r="5.0"/><circle cx="420.9" cy="1382.8" r="5.0"/><circle cx="422.8" cy="1386.7" r="5.0"/><circle cx="426.6" cy="1388.4" r="5.0"/><circle cx="428.5" cy="1389.0" r="5.0"/><circle cx="430.9" cy="1390.0" r="5.0"/><circle cx="433.6" cy="1395.0" r="5.0"/><circle cx="437.1" cy="1396.6" r="5.0"/><circle cx="438.6" cy="1396.7" r="5.0"/><circle cx="441.6" cy="1400.0" r="5.0"/><circle cx="443.9" cy="1399.2" r="5.0"/><circle cx="446.8" cy="1403.4" r="5.0"/><circle cx="449.4" cy="1402.0" r="5.0"/><circle cx="452.2" cy="1402.9" r="5.0"/><circle cx="454.3" cy="1406.0" r="5.0"/><circle cx="457.7" cy="1409.2" r="5.0"/><circle cx="459.9" cy="1407.5" r="5.0"/><circle cx="463.1" cy="1410.3" r="5.0"/><circle cx="464.6" cy="1414.2" r="5.0"/><circle cx="467.0" cy="1413.6" r="5.0"/><circle cx="469.9" cy="1418.5" r="5.0"/><circle cx="472.8" cy="1418.5" r="5.0"/><circle cx="475.6" cy="1420.3" r="5.0"/><circle cx="477.4" cy="1422.4" r="5.0"/><circle cx="480.3" cy="1424.2" r="5.0"/><circle cx="482.9" cy="1424.9" r="5.0"/><circle cx="485.8" cy="1425.5" r="5.0"/><circle cx="488.2" cy="1427.9" r="5.0"/><circle cx="491.1" cy="1430.8" r="5.0"/><circle cx="493.2" cy="1429.4" r="5.0"/><circle cx="496.9" cy="1432.9" r="5.0"/><circle cx="498.9" cy="1436.5" r="5.0"/><circle cx="501.8" cy="1434.3" r="5.0"/><circle cx="504.1" cy="1437.8" r="5.0"/><circle cx="506.8" cy="1440.7" r="5.0"/><circle cx="509.9" cy="1441.4" r="5.0"/><circle cx="511.6" cy="1442.6" r="5.0"/><circle cx="513.9" cy="1446.4" r="5.0"/><circle cx="517.5" cy="1445.6" r="5.0"/><circle cx="520.1" cy="1446.2" r="5.0"/><circle cx="522.1" cy="1450.7" r="5.0"/><circle cx="525.2" cy="1450.6" r="5.0"/><circle cx="526.8" cy="1455.0" r="5.0"/><circle cx="530.1" cy="1454.8" r="5.0"/><circle cx="532.3" cy="1456.5" r="5.0"/><circle cx="535.3" cy="1456.7" r="5.0"/><circle cx="537.1" cy="1461.3" r="5.0"/><circle cx="540.9" cy="1460.4" r="5.0"/><circle cx="543.3" cy="1464.5" r="5.0"/><circle cx="546.0" cy="1462.8" r="5.0"/><circle cx="549.0" cy="1468.7" r="5.0"/><circle cx="550.1" cy="1469.1" r="5.0"/><circle cx="553.0" cy="1471.4" r="5.0"/><circle cx="556.7" cy="1472.2" r="5.0"/><circle cx="558.0" cy="1474.2" r="5.0"/><circle cx="561.9" cy="1474.0" r="5.0"/><circle cx="564.0" cy="1475.1" r="5.0"/><circle cx="565.9" cy="1477.9" r="5.0"/><circle cx="568.3" cy="1480.5" r="5.0"/><circle cx="571.4" cy="1479.9" r="5.0"/><circle cx="573.5" cy="1481.4" r="5.0"/><circle cx="577.2" cy="1485.3" r="5.0"/><circle cx="578.8" cy="1488.3" r="5.0"/><circle cx="581.7" cy="1488.1" r="5.0"/><circle cx="584.6" cy="1490.5" r="5.0"/><circle cx="587.0" cy="1493.6" r="5.0"/><circle cx="590.1" cy="1491.4" r="5.0"/><circle cx="592.6" cy="1493.5" r="5.0"/><circle cx="595.7" cy="1496.8" r="5.0"/><circle cx="597.8" cy="1498.6" r="5.0"/><circle cx="600.3" cy="1499.0" r="5.0"/><circle cx="603.2" cy="1500.7" r="5.0"/><circle cx="604.8" cy="1503.5" r="5.0"/><circle cx="607.8" cy="1503.9" r="5.0"/><circle cx="610.1" cy="1507.8" r="5.0"/><circle cx="613.4" cy="1509.4" r="5.0"/><circle cx="616.1" cy="1508.3" r="5.0"/><circle cx="617.8" cy="1510.0" r="5.0"/><circle cx="620.6" cy="1513.9" r="5.0"/><circle cx="623.6" cy="1516.8" r="5.0"/><circle cx="626.7" cy="1516.0" r="5.0"/><circle cx="629.2" cy="1516.4" r="5.0"/><circle cx="630.8" cy="1518.2" r="5.0"/><circle cx="634.3" cy="1523.8" r="5.0"/><circle cx="636.0" cy="1522.3" r="5.0"/><circle cx="639.5" cy="1527.3" r="5.0"/><circle cx="641.2" cy="1528.3" r="5.0"/><circle cx="644.2" cy="1529.1" r="5.0"/><circle cx="646.7" cy="1529.1" r="5.0"/><circle cx="649.4" cy="1532.4" r="5.0"/><circle cx="651.6" cy="1533.1" r="5.0"/><circle cx="655.0" cy="1536.7" r="5.0"/><circle cx="657.3" cy="1538.3" r="5.0"/><circle cx="660.0" cy="1540.1" r="5.0"/><circle cx="662.7" cy="1540.7" r="5.0"/><circle cx="665.0" cy="1543.0" r="5.0"/><circle cx="667.1" cy="1541.9" r="5.0"/><circle cx="669.7" cy="1544.0" r="5.0"/><circle cx="673.0" cy="1548.7" r="5.0"/><circle cx="674.8" cy="1549.8" r="5.0"/><circle cx="678.8" cy="1550.2" r="5.0"/><circle cx="680.7" cy="1552.5" r="5.0"/><circle cx="682.8" cy="1553.5" r="5.0"/><circle cx="685.5" cy="1553.8" r="5.0"/><circle cx="688.4" cy="1556.5" r="5.0"/><circle cx="690.6" cy="1560.4" r="5.0"/><circle cx="693.4" cy="1559.3" r="5.0"/><circle cx="696.1" cy="1560.6" r="5.0"/><circle cx="699.0" cy="1562.6" r="5.0"/><circle cx="702.3" cy="1563.3" r="5.0"/><circle cx="704.9" cy="1566.5" r="5.0"/><circle cx="707.1" cy="1569.6" r="5.0"/><circle cx="710.1" cy="1570.3" r="5.0"/><circle cx="712.3" cy="1570.4" r="5.0"/><circle cx="714.9" cy="1572.9" r="5.0"/><circle cx="716.7" cy="1576.5" r="5.0"/><circle cx="719.0" cy="1575.8" r="5.0"/><circle cx="721.7" cy="1577.6" r="5.0"/><circle cx="725.8" cy="1580.0" r="5.0"/><circle cx="727.3" cy="1581.5" r="5.0"/><circle cx="729.9" cy="1583.7" r="5.0"/><circle cx="733.1" cy="1586.5" r="5.0"/><circle cx="735.0" cy="1585.7" r="5.0"/><circle cx="738.7" cy="1589.6" r="5.0"/><circle cx="740.5" cy="1591.2" r="5.0"/><circle cx="742.4" cy="1594.3" r="5.0"/><circle cx="746.2" cy="1591.9" r="5.0"/><circle cx="747.7" cy="1595.2" r="5.0"/><circle cx="751.8" cy="1597.4" r="5.0"/><circle cx="753.4" cy="1599.0" r="5.0"/><circle cx="755.5" cy="1598.8" r="5.0"/><circle cx="758.8" cy="1604.0" r="5.0"/><circle cx="760.7" cy="1605.8" r="5.0"/><circle cx="763.3" cy="1604.5" r="5.0"/><circle cx="765.9" cy="1606.8" r="5.0"/><circle cx="769.1" cy="1607.9" r="5.0"/><circle cx="771.1" cy="1609.8" r="5.0"/><circle cx="775.2" cy="1610.3" r="5.0"/><circle cx="777.0" cy="1612.6" r="5.0"/><circle cx="779.7" cy="1615.2" r="5.0"/><circle cx="781.9" cy="1615.5" r="5.0"/><circle cx="784.9" cy="1617.3" r="5.0"/><circle cx="787.6" cy="1622.5" r="5.0"/><circle cx="789.5" cy="1623.9" r="5.0"/><circle cx="792.7" cy="1621.9" r="5.0"/><circle cx="795.3" cy="1625.6" r="5.0"/><circle cx="798.0" cy="1626.8" r="5.0"/><circle cx="801.1" cy="1630.0" r="5.0"/><circle cx="802.9" cy="1629.9" r="5.0"/><circle cx="805.2" cy="1633.8" r="5.0"/><circle cx="807.9" cy="1632.4" r="5.0"/><circle cx="811.2" cy="1633.9" r="5.0"/><circle cx="813.1" cy="1638.8" r="5.0"/><circle cx="815.3" cy="1637.5" r="5.0"/><circle cx="817.9" cy="1639.6" r="5.0"/><circle cx="821.3" cy="1642.1" r="5.0"/><circle cx="823.1" cy="1643.0" r="5.0"/><circle cx="825.7" cy="1646.7" r="5.0"/><circle cx="828.7" cy="1646.1" r="5.0"/><circle cx="831.0" cy="1648.6" r="5.0"/><circle cx="833.9" cy="1650.5" r="5.0"/><circle cx="836.9" cy="1653.6" r="5.0"/><circle cx="839.6" cy="1655.9" r="5.0"/><circle cx="842.1" cy="1657.0" r="5.0"/><circle cx="845.1" cy="1657.3" r="5.0"/><circle cx="847.9" cy="1659.9" r="5.0"/><circle cx="850.1" cy="1661.9" r="5.0"/><circle cx="852.9" cy="1661.5" r="5.0"/><circle cx="854.4" cy="1663.7" r="5.0"/><circle cx="857.1" cy="1664.0" r="5.0"/><circle cx="860.5" cy="1666.5" r="5.0"/>
<line x1="96.30" y1="1175.48" x2="863.10" y2="1669.43" stroke="#f20000" stroke-width="3"/>
</g>
<rect x="101" y="111" width="74" height="73" fill="#fdfdfd"/>
<text x="105.10" y="162.25" font-size="55" text-anchor="start" fill="#2b2b2b" >(a)</text>
<rect x="101" y="612.5" width="74" height="73" fill="#fdfdfd"/>
<text x="105.60" y="662.85" font-size="55" text-anchor="start" fill="#2b2b2b" >(b)</text>
<rect x="101" y="1156" width="74" height="73" fill="#ffffff" opacity="0.68"/>
<text x="105.10" y="1207.85" font-size="55" text-anchor="start" fill="#2b2b2b" >(c)</text>
<rect x="506" y="553" width="274" height="40" fill="#fff"/>
<pattern id="grid1" patternUnits="userSpaceOnUse" width="19.85" height="19.85" patternTransform="translate(251.3,629.4) rotate(0)"><rect width="19.85" height="19.85" fill="#727272"/><rect x="0" y="2.10" width="19.85" height="2" fill="#5f5f5f"/><rect x="0" y="15.05" width="19.85" height="2" fill="#8c8c8c"/><rect x="1.70" y="0" width="2" height="19.85" fill="#636363"/><rect x="15.65" y="0" width="2" height="19.85" fill="#888"/></pattern>
<pattern id="grid1L" patternUnits="userSpaceOnUse" width="19.85" height="19.85" patternTransform="translate(251.3,629.4) rotate(0)"><rect x="0" y="0" width="19.85" height="2.1" fill="#2a2a2a"/><rect x="0" y="0" width="1.7" height="19.85" fill="#303030"/><rect x="0" y="17.05" width="19.85" height="2.8000000000000003" fill="#ebebeb"/><rect x="17.65" y="0" width="2.2" height="19.85" fill="#ebebeb"/></pattern>
<clipPath id="cl1"><rect x="249" y="634" width="251" height="251"/></clipPath>
<g clip-path="url(#cl1)">
<rect x="249" y="634" width="251" height="251" fill="url(#grid1)"/>
<g transform="rotate(-45 374.5 759.5)">
<rect x="186.2" y="571.2" width="376.5" height="376.5" filter="url(#grain)" opacity="0.7"/>
<rect x="186.2" y="571.2" width="376.5" height="376.5" filter="url(#grainw)" opacity="0.7"/>
</g>
<rect x="249" y="634" width="251" height="251" fill="url(#grid1L)"/>
<polygon fill="#080808" points="410.6,696.0 409.7,698.9 407.9,701.3 405.7,703.2 403.9,705.1 402.0,707.6 399.4,710.0 396.0,711.1 392.5,710.1 390.0,707.6 388.2,705.1 386.5,703.1 384.7,701.1 383.2,698.7 382.3,696.0 381.9,693.0 382.0,689.8 383.2,686.5 386.0,684.3 389.7,683.8 393.2,684.6 396.0,685.4 398.6,685.3 401.8,684.9 405.1,685.4 407.9,687.2 409.6,689.9 410.4,692.9"/>
<polygon fill="#080808" points="431.3,689.0 431.7,693.0 431.1,697.1 428.5,700.6 423.8,702.1 418.8,701.4 414.8,699.8 412.0,699.0 409.3,699.4 405.9,700.2 402.0,700.0 398.3,698.6 395.1,696.2 392.5,692.9 391.2,689.0 391.7,684.9 394.1,681.4 397.6,678.9 401.4,677.3 405.2,676.5 408.8,676.5 412.0,677.1 414.9,677.8 418.0,678.1 421.6,678.3 425.5,679.5 428.6,682.0 430.4,685.3"/>
<polygon fill="#080808" points="435.3,684.0 436.9,687.3 437.2,691.2 435.7,694.3 432.8,695.4 430.0,695.0 427.8,694.6 426.0,695.1 424.0,695.5 422.2,694.4 421.3,691.9 421.1,689.2 420.5,687.5 418.9,686.2 416.8,684.0 415.5,680.8 415.8,677.5 417.2,674.7 419.2,672.6 421.3,671.0 423.7,670.5 426.0,671.4 427.8,673.5 429.0,675.8 429.8,677.7 430.7,679.0 431.9,680.2 433.5,681.7"/>
<polygon fill="#080808" points="420.3,703.0 420.8,704.9 419.7,706.8 417.8,708.3 415.5,709.6 413.0,710.7 410.1,711.3 407.0,711.2 404.2,710.4 401.9,709.5 399.7,708.6 397.5,707.7 395.6,706.4 394.5,704.8 394.2,703.0 394.3,701.2 394.8,699.4 396.1,697.6 398.3,696.3 401.1,695.4 404.0,695.0 407.0,694.8 410.0,695.0 412.6,695.8 414.5,697.2 415.7,698.7 417.0,700.0 418.7,701.4"/>
<polygon fill="#080808" points="366.1,699.0 366.3,700.9 365.8,702.8 364.5,704.3 362.7,705.4 360.7,705.8 358.8,705.9 357.0,706.2 355.1,706.6 352.8,706.7 350.7,706.0 349.3,704.4 349.0,702.4 349.1,700.6 349.0,699.0 348.4,697.3 348.3,695.3 349.3,693.5 351.1,692.5 353.2,692.0 355.1,691.7 357.0,691.3 359.1,691.0 361.1,691.5 362.7,692.7 363.7,694.2 364.6,695.8 365.4,697.3"/>
<polygon fill="#080808" points="371.8,710.0 372.2,711.9 372.4,714.0 371.3,716.0 368.8,717.1 365.7,717.1 363.1,716.7 361.0,716.4 359.0,716.5 356.7,716.4 354.5,715.9 352.4,715.0 350.6,713.6 349.1,712.0 348.5,710.0 349.0,708.0 350.4,706.3 352.1,704.9 354.1,703.7 356.3,702.9 358.7,702.7 361.0,703.0 363.1,703.4 365.3,703.5 367.8,703.8 370.1,704.7 371.4,706.4 371.6,708.2"/>
<ellipse cx="261" cy="814" rx="7" ry="5.6000000000000005" fill="#1a1a1a" opacity="0.55"/><polygon fill="#e8e8e8" points="283.8,821.0 282.9,822.9 281.6,824.5 280.2,825.8 278.9,827.0 277.5,828.0 275.9,828.7 274.2,829.0 272.5,828.8 271.0,828.6 269.6,828.2 268.2,827.9 266.9,827.4 265.6,826.8 264.3,826.1 262.9,825.2 261.2,824.2 259.5,822.8 258.2,821.0 257.9,818.9 258.7,817.0 260.5,815.6 262.7,814.8 264.8,814.3 266.4,813.9 267.9,813.4 269.5,813.2 271.0,813.3 272.4,814.0 273.5,814.8 274.6,815.4 276.0,815.6 278.1,815.7 280.5,816.1 282.6,817.2 283.8,819.0"/><ellipse cx="437" cy="777" rx="8" ry="6.4" fill="#1a1a1a" opacity="0.55"/><polygon fill="#e8e8e8" points="459.0,788.0 458.2,790.4 457.3,792.5 456.5,794.5 455.7,796.6 454.6,798.5 453.2,799.9 451.4,800.3 449.5,799.6 448.0,798.2 446.8,796.8 445.9,795.7 444.9,795.1 443.8,794.7 442.6,794.1 441.3,793.2 440.0,791.9 438.7,790.2 437.4,788.0 436.4,785.3 436.0,782.2 436.5,779.2 438.1,776.9 440.5,776.0 443.0,776.5 445.3,778.1 446.9,779.9 448.0,781.4 448.8,782.0 449.7,781.8 451.0,781.0 452.9,780.2 455.1,780.1 457.2,781.0 458.6,782.8 459.2,785.4"/><ellipse cx="472" cy="831" rx="5" ry="4.0" fill="#1a1a1a" opacity="0.55"/><polygon fill="#e8e8e8" points="484.9,840.0 485.9,841.4 486.3,842.9 486.0,844.5 485.0,845.9 483.6,846.9 481.9,847.5 480.2,847.6 478.5,847.4 477.0,846.9 475.7,846.3 474.6,845.7 473.6,845.1 472.7,844.5 471.8,843.8 471.2,843.0 470.7,842.0 470.4,841.0 470.3,840.0 470.1,838.9 469.9,837.7 469.7,836.3 469.8,834.7 470.3,833.1 471.5,831.7 473.2,830.9 475.1,830.8 477.0,831.5 478.5,832.7 479.4,834.2 479.9,835.6 480.1,836.7 480.5,837.5 481.1,837.9 482.2,838.3 483.6,839.0"/><line x1="284.6" y1="807.8" x2="453.9" y2="806.0" stroke="#f2e51a" stroke-width="3.4"/><polygon points="468.3,805.9 450.4,814.1 450.2,798.1" fill="#f2e51a"/><polygon points="270.2,807.9 288.3,815.7 288.1,799.7" fill="#f2e51a"/>
</g>
<rect x="250.2" y="635.2" width="248.6" height="248.6" fill="none" stroke="#262626" stroke-width="2.6"/>
<pattern id="grid2" patternUnits="userSpaceOnUse" width="21.83" height="21.83" patternTransform="translate(521.8,560.25) rotate(0)"><rect width="21.83" height="21.83" fill="#727272"/><rect x="0" y="2.10" width="21.83" height="2" fill="#5f5f5f"/><rect x="0" y="17.03" width="21.83" height="2" fill="#8c8c8c"/><rect x="1.70" y="0" width="2" height="21.83" fill="#636363"/><rect x="17.63" y="0" width="2" height="21.83" fill="#888"/></pattern>
<pattern id="grid2L" patternUnits="userSpaceOnUse" width="21.83" height="21.83" patternTransform="translate(521.8,560.25) rotate(0)"><rect x="0" y="0" width="21.83" height="2.1" fill="#2a2a2a"/><rect x="0" y="0" width="1.7" height="21.83" fill="#303030"/><rect x="0" y="19.03" width="21.83" height="2.8000000000000003" fill="#ebebeb"/><rect x="19.63" y="0" width="2.2" height="21.83" fill="#ebebeb"/></pattern>
<clipPath id="cl2"><rect x="520" y="557" width="251" height="250"/></clipPath>
<g clip-path="url(#cl2)">
<rect x="520" y="557" width="251" height="250" fill="url(#grid2)"/>
<g transform="rotate(-45 645.5 682.0)">
<rect x="457.2" y="494.5" width="376.5" height="375.0" filter="url(#grain)" opacity="0.7"/>
<rect x="457.2" y="494.5" width="376.5" height="375.0" filter="url(#grainw)" opacity="0.7"/>
</g>
<rect x="520" y="557" width="251" height="250" fill="url(#grid2L)"/>
<polygon fill="#080808" points="651.2,564.0 649.6,565.2 648.4,566.2 647.8,567.3 647.2,568.8 645.7,570.4 643.1,571.4 640.0,571.7 636.7,571.8 633.2,571.6 629.7,570.9 627.3,569.5 626.8,567.4 628.3,565.4 630.3,564.0 631.4,562.9 631.5,561.8 631.5,560.4 632.4,558.9 634.3,557.7 636.9,556.7 640.0,556.1 643.4,555.9 646.8,556.4 649.7,557.5 651.7,559.0 652.6,560.7 652.4,562.5"/>
<polygon fill="#080808" points="711.2,560.0 711.1,560.6 710.7,561.1 710.1,561.6 709.5,562.2 708.7,562.8 707.6,563.4 706.0,563.7 704.4,563.6 703.0,563.1 702.1,562.4 701.4,561.8 701.0,561.2 700.9,560.6 701.1,560.0 701.3,559.5 701.3,558.9 701.4,558.2 702.0,557.5 703.1,557.0 704.5,556.8 706.0,556.7 707.5,556.8 708.9,556.9 710.1,557.4 710.8,558.1 711.0,558.8 711.1,559.4"/>
<ellipse cx="532" cy="676" rx="8" ry="6.4" fill="#1a1a1a" opacity="0.55"/><polygon fill="#e8e8e8" points="556.7,688.0 556.0,689.3 555.2,690.3 554.6,691.4 554.0,692.5 553.3,693.7 552.5,694.9 551.3,696.0 549.8,696.8 548.0,697.3 546.2,697.2 544.4,696.7 543.0,695.7 541.9,694.4 541.3,693.0 541.1,691.5 541.0,690.3 540.9,689.1 540.5,688.0 540.0,686.7 539.7,685.3 539.7,683.8 540.4,682.3 541.5,681.1 543.1,680.4 544.8,680.1 546.4,680.1 548.0,680.2 549.5,680.5 551.0,680.8 552.5,681.1 553.9,681.7 555.3,682.5 556.4,683.7 557.0,685.1 557.1,686.6"/><ellipse cx="728" cy="635" rx="10" ry="8.0" fill="#1a1a1a" opacity="0.55"/><polygon fill="#e8e8e8" points="750.5,655.0 750.8,657.2 750.9,659.6 750.5,662.0 749.9,664.3 749.1,666.4 748.1,668.1 746.8,669.2 745.4,669.2 744.0,668.1 742.9,666.3 742.1,664.6 741.3,663.6 740.3,663.2 739.0,662.7 737.8,661.6 737.0,659.7 736.8,657.4 736.9,655.0 737.1,652.7 737.2,650.4 737.3,647.8 737.8,645.3 738.8,643.5 740.2,642.9 741.7,643.2 742.9,643.7 744.0,643.8 745.1,643.3 746.4,642.8 747.7,643.1 748.8,644.5 749.4,646.6 749.6,649.0 749.7,651.1 750.0,653.0"/><line x1="559.2" y1="670.3" x2="726.7" y2="667.9" stroke="#f2e51a" stroke-width="3.4"/><polygon points="741.1,667.7 723.2,676.0 723.0,660.0" fill="#f2e51a"/><polygon points="544.8,670.5 562.9,678.2 562.7,662.2" fill="#f2e51a"/>
</g>
<rect x="521.2" y="558.2" width="248.6" height="247.6" fill="none" stroke="#262626" stroke-width="2.6"/>
<pattern id="grid3" patternUnits="userSpaceOnUse" width="21.7" height="21.7" patternTransform="translate(131,1410) rotate(-26)"><rect width="21.7" height="21.7" fill="#727272"/><rect x="0" y="2.30" width="21.7" height="2" fill="#5f5f5f"/><rect x="0" y="17.20" width="21.7" height="2" fill="#8c8c8c"/><rect x="1.90" y="0" width="2" height="21.7" fill="#636363"/><rect x="17.80" y="0" width="2" height="21.7" fill="#888"/></pattern>
<pattern id="grid3L" patternUnits="userSpaceOnUse" width="21.7" height="21.7" patternTransform="translate(131,1410) rotate(-26)"><rect x="0" y="0" width="21.7" height="2.3" fill="#2a2a2a"/><rect x="0" y="0" width="1.9" height="21.7" fill="#303030"/><rect x="0" y="19.20" width="21.7" height="2.5" fill="#ebebeb"/><rect x="19.80" y="0" width="1.9" height="21.7" fill="#ebebeb"/></pattern>
<clipPath id="cl3"><rect x="131" y="1410" width="251" height="251"/></clipPath>
<g clip-path="url(#cl3)">
<rect x="131" y="1410" width="251" height="251" fill="url(#grid3)"/>
<g transform="rotate(-45 256.5 1535.5)">
<rect x="68.2" y="1347.2" width="376.5" height="376.5" filter="url(#grain)" opacity="0.7"/>
<rect x="68.2" y="1347.2" width="376.5" height="376.5" filter="url(#grainw)" opacity="0.7"/>
</g>
<rect x="131" y="1410" width="251" height="251" fill="url(#grid3L)"/>
<polygon fill="#080808" points="246.3,1431.0 246.0,1433.0 244.8,1434.8 243.4,1436.2 241.9,1437.6 240.1,1438.6 238.1,1439.0 236.0,1439.1 234.0,1438.9 232.0,1438.4 230.5,1437.1 229.9,1435.3 229.9,1433.6 229.5,1432.3 228.0,1431.0 226.3,1429.0 225.8,1426.6 227.1,1424.7 229.4,1423.7 231.8,1423.2 233.9,1422.8 236.0,1422.8 237.9,1423.6 239.2,1425.1 240.1,1426.4 241.4,1427.2 243.3,1427.9 245.4,1429.1"/>
<polygon fill="#080808" points="249.1,1443.0 248.5,1445.2 248.3,1447.6 247.8,1450.2 246.3,1452.6 243.8,1454.1 240.9,1454.6 238.0,1454.3 235.4,1453.5 233.1,1452.4 231.0,1451.1 229.0,1449.6 227.3,1447.7 226.3,1445.4 226.4,1443.0 227.3,1440.8 228.2,1438.7 228.8,1436.3 229.7,1433.5 231.8,1431.2 234.9,1430.5 238.0,1431.5 240.4,1433.3 242.5,1434.5 244.9,1435.1 247.5,1436.1 249.3,1438.0 249.6,1440.6"/>
<polygon fill="#080808" points="280.3,1464.6 280.9,1467.6 280.5,1470.5 279.5,1473.2 278.5,1475.7 277.8,1478.3 277.2,1481.1 276.1,1484.0 274.2,1486.0 271.4,1486.5 268.4,1485.3 265.7,1482.8 263.8,1480.1 262.5,1478.2 261.3,1477.5 259.7,1477.8 257.5,1478.2 255.0,1478.1 252.7,1477.1 250.8,1475.2 249.3,1472.9 248.1,1470.3 247.1,1467.4 246.3,1464.2 246.3,1460.9 247.3,1457.8 249.4,1455.6 252.2,1454.5 255.2,1454.3 258.1,1454.9 260.5,1455.8 262.5,1456.8 264.2,1457.7 265.7,1458.5 267.1,1459.1 268.7,1459.4 270.7,1459.6 273.1,1459.8 275.9,1460.5 278.5,1462.2"/>
<polygon fill="#080808" points="297.4,1489.0 296.3,1493.6 293.6,1497.5 290.5,1500.6 287.4,1503.2 283.8,1505.2 279.8,1505.7 276.0,1504.3 273.1,1501.6 271.0,1499.3 268.5,1498.3 264.8,1498.0 260.2,1496.6 256.4,1493.5 254.8,1489.0 255.7,1484.4 258.0,1480.3 260.9,1477.0 264.3,1474.3 268.2,1472.8 272.3,1472.9 276.0,1474.5 278.8,1476.9 281.0,1478.6 283.7,1479.3 287.6,1479.8 292.1,1481.2 295.9,1484.5"/>
<polygon fill="#080808" points="297.8,1482.0 296.9,1484.3 295.6,1486.1 293.8,1487.2 292.0,1487.6 290.6,1487.9 289.4,1488.9 288.0,1490.7 285.8,1492.5 283.1,1493.3 280.4,1492.5 278.6,1490.3 278.0,1487.3 278.5,1484.4 279.7,1482.0 280.7,1480.2 281.4,1478.4 281.9,1476.6 282.8,1474.8 284.4,1473.7 286.3,1473.5 288.0,1473.5 289.8,1473.2 292.1,1472.6 294.7,1472.6 297.0,1474.0 298.2,1476.5 298.3,1479.4"/>
<ellipse cx="190" cy="1553" rx="6" ry="4.800000000000001" fill="#1a1a1a" opacity="0.55"/><polygon fill="#e8e8e8" points="209.5,1562.0 209.0,1563.3 207.7,1564.5 206.1,1565.3 204.4,1566.0 203.0,1566.6 201.8,1567.3 200.5,1568.1 198.9,1569.0 197.0,1569.6 194.8,1569.8 192.8,1569.4 191.0,1568.6 189.8,1567.5 188.9,1566.3 188.3,1565.2 187.7,1564.2 187.1,1563.1 186.6,1562.0 186.4,1560.8 186.5,1559.6 187.1,1558.4 188.1,1557.2 189.4,1556.3 191.1,1555.5 193.0,1555.0 195.0,1554.9 197.0,1555.1 198.8,1555.5 200.4,1556.0 201.9,1556.6 203.4,1557.1 205.0,1557.7 206.6,1558.5 208.2,1559.4 209.2,1560.6"/><ellipse cx="162" cy="1596" rx="6" ry="4.800000000000001" fill="#1a1a1a" opacity="0.55"/><polygon fill="#e8e8e8" points="179.5,1604.0 179.5,1606.3 178.6,1608.3 176.8,1609.7 174.7,1610.3 172.8,1610.4 171.2,1610.3 170.0,1610.3 169.0,1610.5 168.0,1610.8 166.9,1611.0 165.7,1611.0 164.5,1610.9 163.2,1610.4 161.9,1609.7 160.8,1608.7 159.9,1607.3 159.4,1605.7 159.2,1604.0 159.1,1602.2 159.2,1600.4 159.5,1598.5 160.3,1596.7 161.6,1595.4 163.3,1594.8 165.1,1595.2 166.8,1596.2 168.0,1597.5 168.9,1598.5 169.6,1599.2 170.4,1599.3 171.5,1599.3 173.0,1599.3 174.9,1599.5 176.8,1600.4 178.5,1601.9"/><ellipse cx="340" cy="1584" rx="7" ry="5.6000000000000005" fill="#1a1a1a" opacity="0.55"/><polygon fill="#e8e8e8" points="352.0,1592.0 351.4,1593.6 350.7,1595.0 350.2,1596.3 349.6,1597.5 349.0,1598.8 348.3,1600.2 347.5,1601.8 346.4,1603.4 345.0,1604.5 343.4,1604.6 342.1,1603.2 341.4,1600.9 341.2,1598.5 341.2,1596.6 340.7,1595.5 339.6,1594.8 338.2,1593.7 337.2,1592.0 337.0,1590.0 337.6,1588.2 338.7,1586.8 339.8,1585.8 340.7,1584.6 341.5,1583.3 342.5,1582.1 343.7,1581.5 345.0,1581.9 346.1,1582.8 347.1,1583.7 348.1,1584.3 349.4,1584.6 350.7,1585.1 351.9,1586.3 352.5,1588.1 352.5,1590.1"/><ellipse cx="311" cy="1640" rx="5" ry="4.0" fill="#1a1a1a" opacity="0.55"/><polygon fill="#e8e8e8" points="321.0,1646.0 320.5,1647.0 320.1,1647.9 319.8,1648.8 319.4,1649.7 318.9,1650.6 318.2,1651.5 317.2,1652.1 316.1,1652.3 315.0,1652.2 314.0,1651.8 313.1,1651.3 312.3,1650.7 311.5,1650.2 310.6,1649.7 309.6,1649.1 308.9,1648.2 308.6,1647.1 308.8,1646.0 309.3,1645.0 309.9,1644.1 310.3,1643.3 310.5,1642.2 310.9,1641.1 311.6,1640.1 312.7,1639.5 313.9,1639.7 315.0,1640.3 315.9,1641.0 316.7,1641.4 317.6,1641.5 318.7,1641.6 319.9,1641.9 320.9,1642.6 321.4,1643.7 321.4,1644.9"/><line x1="167.1" y1="1435.2" x2="221.2" y2="1546.1" stroke="#f2e51a" stroke-width="4.4" stroke-linecap="round"/>
</g>
<rect x="132.2" y="1411.2" width="248.6" height="248.6" fill="none" stroke="#262626" stroke-width="2.6"/>
<pattern id="grid4" patternUnits="userSpaceOnUse" width="20.6" height="20.6" patternTransform="translate(551,1188) rotate(34)"><rect width="20.6" height="20.6" fill="#7a7a7a"/><rect x="0" y="2.80" width="20.6" height="2" fill="#5f5f5f"/><rect x="0" y="17.50" width="20.6" height="2" fill="#8c8c8c"/><rect x="1.60" y="0" width="2" height="20.6" fill="#636363"/><rect x="16.60" y="0" width="2" height="20.6" fill="#888"/></pattern>
<pattern id="grid4L" patternUnits="userSpaceOnUse" width="20.6" height="20.6" patternTransform="translate(551,1188) rotate(34)"><rect x="0" y="0" width="20.6" height="2.8" fill="#2a2a2a"/><rect x="0" y="0" width="1.6" height="20.6" fill="#303030"/><rect x="0" y="19.50" width="20.6" height="1.1" fill="#ebebeb"/><rect x="18.60" y="0" width="2.0" height="20.6" fill="#ebebeb"/></pattern>
<clipPath id="cl4"><rect x="551" y="1188" width="251" height="251"/></clipPath>
<g clip-path="url(#cl4)">
<rect x="551" y="1188" width="251" height="251" fill="url(#grid4)"/>
<g transform="rotate(-45 676.5 1313.5)">
<rect x="488.2" y="1125.2" width="376.5" height="376.5" filter="url(#grain)" opacity="0.7"/>
<rect x="488.2" y="1125.2" width="376.5" height="376.5" filter="url(#grainw)" opacity="0.7"/>
</g>
<rect x="551" y="1188" width="251" height="251" fill="url(#grid4L)"/>
<polygon fill="#080808" points="726.5,1206.0 726.2,1208.3 725.4,1210.5 723.9,1212.3 722.1,1213.6 720.1,1214.6 718.2,1215.6 716.0,1216.6 713.5,1216.7 711.5,1215.4 710.4,1213.0 710.1,1210.7 709.3,1209.2 707.4,1208.0 705.1,1206.0 703.8,1203.2 704.3,1200.4 706.4,1198.4 709.2,1197.5 711.9,1197.4 714.1,1197.7 716.0,1198.1 717.8,1198.2 719.8,1198.1 722.1,1198.3 724.4,1199.3 725.9,1201.2 726.5,1203.6"/>
<polygon fill="#080808" points="733.1,1221.0 733.2,1223.8 732.6,1226.6 731.3,1229.2 729.4,1231.5 726.8,1233.1 723.9,1233.7 721.0,1233.2 718.5,1232.0 716.4,1230.6 714.6,1229.0 712.9,1227.5 711.3,1225.7 710.0,1223.5 709.1,1221.0 708.7,1218.2 709.1,1215.2 710.3,1212.5 712.4,1210.2 715.2,1208.9 718.2,1208.6 721.0,1209.2 723.4,1210.3 725.5,1211.6 727.5,1212.9 729.4,1214.3 731.1,1216.2 732.4,1218.4"/>
<polygon fill="#080808" points="802.3,1262.9 799.6,1265.7 795.9,1267.5 791.6,1268.3 786.7,1268.0 781.8,1266.5 777.1,1264.3 772.8,1261.8 768.9,1259.3 765.2,1257.0 761.5,1254.7 758.1,1251.9 755.2,1248.7 753.4,1245.1 752.7,1241.6 752.7,1238.5 752.8,1235.6 752.1,1232.7 750.8,1229.3 749.1,1225.1 747.9,1220.4 748.1,1215.9 749.7,1212.1 752.9,1209.4 757.3,1208.1 762.5,1208.1 768.0,1209.7 773.3,1212.8 777.9,1217.2 781.1,1222.4 782.8,1227.5 783.4,1231.6 784.0,1234.7 785.4,1236.8 788.3,1238.8 792.5,1241.5 797.1,1245.2 801.0,1249.8 803.2,1254.6 803.6,1259.1"/>
<polygon fill="#080808" points="772.7,1228.0 769.6,1230.2 767.3,1231.5 766.8,1233.4 766.8,1236.6 765.8,1240.0 763.2,1242.1 760.0,1242.2 756.9,1241.4 753.9,1240.6 750.9,1239.4 748.4,1237.3 747.0,1234.3 746.5,1231.1 746.6,1228.0 747.2,1225.1 748.9,1222.6 751.5,1221.2 754.2,1220.7 756.0,1219.8 757.6,1217.6 760.0,1215.0 763.3,1213.4 766.9,1213.7 770.0,1215.4 772.6,1217.9 774.5,1221.0 774.7,1224.6"/>
<polygon fill="#080808" points="802.4,1253.0 801.6,1255.9 799.9,1258.3 797.6,1260.2 795.1,1261.7 792.6,1263.0 789.9,1264.1 787.0,1265.0 783.7,1265.4 780.3,1265.0 777.3,1263.4 775.5,1260.9 775.0,1258.0 775.3,1255.3 775.6,1253.0 775.1,1250.7 774.5,1247.8 774.7,1244.6 776.6,1241.8 779.8,1240.2 783.6,1240.3 787.0,1241.4 789.7,1242.8 792.1,1243.9 794.7,1244.7 797.5,1245.8 800.1,1247.6 801.8,1250.1"/>
<ellipse cx="562" cy="1250" rx="6" ry="4.800000000000001" fill="#1a1a1a" opacity="0.55"/><polygon fill="#e8e8e8" points="573.6,1262.0 573.5,1263.7 572.9,1265.2 571.9,1266.4 570.9,1267.3 570.0,1268.2 569.2,1269.2 568.3,1270.2 567.3,1271.2 566.0,1271.7 564.7,1271.7 563.4,1271.0 562.4,1269.9 561.7,1268.6 561.0,1267.4 560.4,1266.2 559.7,1264.9 559.1,1263.6 558.7,1262.0 558.6,1260.3 559.0,1258.7 559.8,1257.4 560.8,1256.3 561.8,1255.5 562.7,1254.7 563.7,1253.9 564.8,1253.1 566.0,1252.5 567.3,1252.6 568.5,1253.2 569.5,1254.2 570.3,1255.5 571.0,1256.6 571.7,1257.8 572.5,1258.9 573.2,1260.4"/><ellipse cx="740" cy="1345" rx="8" ry="6.4" fill="#1a1a1a" opacity="0.55"/><polygon fill="#e8e8e8" points="754.4,1358.0 755.4,1359.8 756.0,1362.0 755.8,1364.2 754.8,1366.3 753.2,1367.8 751.2,1368.7 749.0,1368.9 746.8,1368.5 745.0,1367.6 743.5,1366.6 742.2,1365.8 740.9,1365.1 739.7,1364.3 738.6,1363.4 737.8,1362.1 737.3,1360.8 736.8,1359.4 736.1,1358.0 735.2,1356.3 734.3,1354.1 734.0,1351.7 734.7,1349.4 736.4,1347.8 738.8,1347.2 741.2,1347.5 743.3,1348.1 745.0,1348.7 746.6,1349.2 748.0,1349.7 749.4,1350.4 750.4,1351.6 751.1,1352.9 751.6,1354.2 752.3,1355.4 753.2,1356.5"/><ellipse cx="732" cy="1402" rx="7" ry="5.6000000000000005" fill="#1a1a1a" opacity="0.55"/><polygon fill="#e8e8e8" points="745.4,1412.0 746.3,1413.6 746.7,1415.5 746.1,1417.3 744.7,1418.5 743.0,1419.1 741.3,1419.5 739.9,1419.9 738.5,1420.5 737.0,1421.0 735.4,1421.0 734.0,1420.3 732.9,1419.2 732.0,1418.0 730.9,1417.1 729.4,1416.4 727.6,1415.4 726.2,1413.9 725.9,1412.0 726.7,1410.2 728.5,1408.9 730.3,1408.2 731.8,1407.6 732.6,1406.8 733.2,1405.4 734.0,1403.8 735.3,1402.3 737.0,1401.5 738.9,1401.4 740.6,1402.1 742.0,1403.4 742.9,1405.0 743.3,1406.7 743.5,1408.2 743.8,1409.5 744.5,1410.7"/><polyline points="704.5,1218.8 757.7,1329.2 658.8,1256.5" fill="none" stroke="#f2e51a" stroke-width="4.3" stroke-linejoin="miter" stroke-linecap="round"/><line x1="722.7" y1="1258.5" x2="704" y2="1269.5" stroke="#f2e51a" stroke-width="3.6"/><polygon points="692.4,1278.7 699.8,1263.9 708.6,1274" fill="#f2e51a"/>
</g>
<rect x="552.2" y="1189.2" width="248.6" height="248.6" fill="none" stroke="#262626" stroke-width="2.6"/>
<line x1="491.1" y1="885.0" x2="491.1" y2="1073.6" stroke="#ee4130" stroke-width="2.4"/><polygon points="491.1,1102.6 476.6,1069.6 491.1,1073.6 505.6,1069.6" fill="#ee4130"/>
<line x1="771.0" y1="650.5" x2="826.0" y2="650.5" stroke="#ee4130" stroke-width="2.4"/><polygon points="858.0,650.5 822.0,665.0 826.0,650.5 822.0,636.0" fill="#ee4130"/>
<line x1="382.5" y1="1429.5" x2="449.8" y2="1429.5" stroke="#ee4130" stroke-width="2.4"/><polygon points="478.8,1429.5 445.8,1444.0 449.8,1429.5 445.8,1415.0" fill="#ee4130"/>
<line x1="784.0" y1="1439.5" x2="849.9" y2="1634.2" stroke="#ee4130" stroke-width="2.4"/><polygon points="859.2,1661.7 834.9,1635.1 849.9,1634.2 862.4,1625.8" fill="#ee4130"/>
<g font-size="29" letter-spacing="1.2">
<text x="154.29" y="84.30" font-size="29" text-anchor="middle" fill="#000" >-60</text>
<text x="262.96" y="84.30" font-size="29" text-anchor="middle" fill="#000" >-40</text>
<text x="371.63" y="84.30" font-size="29" text-anchor="middle" fill="#000" >-20</text>
<text x="480.30" y="84.30" font-size="29" text-anchor="middle" fill="#000" >0</text>
<text x="588.97" y="84.30" font-size="29" text-anchor="middle" fill="#000" >20</text>
<text x="697.64" y="84.30" font-size="29" text-anchor="middle" fill="#000" >40</text>
<text x="806.31" y="84.30" font-size="29" text-anchor="middle" fill="#000" >60</text>
<text x="83.20" y="139.05" font-size="29" text-anchor="end" fill="#000" >2</text>
<text x="83.20" y="245.25" font-size="29" text-anchor="end" fill="#000" >1</text>
<text x="83.20" y="351.45" font-size="29" text-anchor="end" fill="#000" >0</text>
<text x="83.20" y="457.65" font-size="29" text-anchor="end" fill="#000" >-1</text>
<text x="83.20" y="563.85" font-size="29" text-anchor="end" fill="#000" >-2</text>
<text x="83.20" y="664.50" font-size="29" text-anchor="end" fill="#000" >10</text>
<text x="83.20" y="755.40" font-size="29" text-anchor="end" fill="#000" >8</text>
<text x="83.20" y="846.30" font-size="29" text-anchor="end" fill="#000" >6</text>
<text x="83.20" y="937.20" font-size="29" text-anchor="end" fill="#000" >4</text>
<text x="83.20" y="1028.10" font-size="29" text-anchor="end" fill="#000" >2</text>
<text x="83.20" y="1119.00" font-size="29" text-anchor="end" fill="#000" >0</text>
<text x="83.20" y="1253.40" font-size="29" text-anchor="end" fill="#000" >20</text>
<text x="83.20" y="1343.40" font-size="29" text-anchor="end" fill="#000" >10</text>
<text x="83.20" y="1433.40" font-size="29" text-anchor="end" fill="#000" >0</text>
<text x="83.20" y="1523.40" font-size="29" text-anchor="end" fill="#000" >-10</text>
<text x="83.20" y="1613.40" font-size="29" text-anchor="end" fill="#000" >-20</text>
<text x="99.95" y="1734.30" font-size="29" text-anchor="middle" fill="#000" >-600</text>
<text x="226.73" y="1734.30" font-size="29" text-anchor="middle" fill="#000" >-400</text>
<text x="353.52" y="1734.30" font-size="29" text-anchor="middle" fill="#000" >-200</text>
<text x="480.30" y="1734.30" font-size="29" text-anchor="middle" fill="#000" >0</text>
<text x="607.08" y="1734.30" font-size="29" text-anchor="middle" fill="#000" >200</text>
<text x="733.87" y="1734.30" font-size="29" text-anchor="middle" fill="#000" >400</text>
<text x="860.65" y="1734.30" font-size="29" text-anchor="middle" fill="#000" >600</text>
</g>
<g font-size="38" fill="#1a1a1a">
<text transform="translate(0,41.4) scale(1,1.04)"><tspan x="246.3" y="0" font-size="38.1">OL excitation, decimal (10</tspan><tspan x="686.4" y="-16.5" font-size="25">3</tspan><tspan x="703.7" y="0" font-size="38.1">)</tspan></text>
<text transform="translate(317.8,1778.3) scale(1,1.04)">Magnetic field (mT)</text>
<text transform="translate(31.9,485.8) rotate(-90) scale(1,1.04)">Magnetic field (T)</text>
<text transform="translate(31.5,1112.6) rotate(-90) scale(1,1.04)" font-size="38.5">Magnification increase (%)</text>
<text transform="translate(30.9,1570.4) rotate(-90) scale(1,1.04)" font-size="37.6">Image rotation (°)</text>
</g>
</svg>
</body></html>
